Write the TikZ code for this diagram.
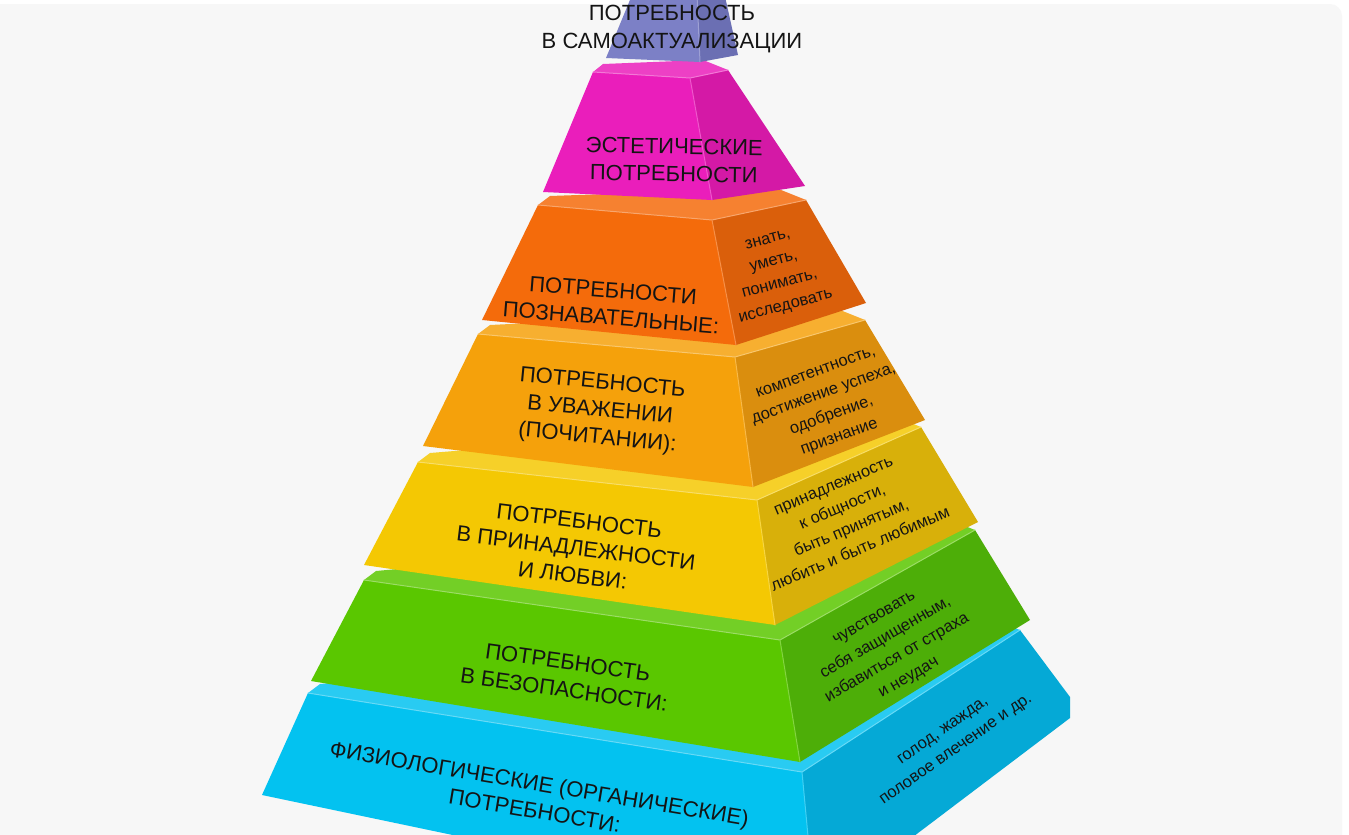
\documentclass[tikz,border=0pt]{standalone}
\usepackage{fontspec}
\setmainfont{Liberation Sans}
\definecolor{bgpanel}{HTML}{F7F7F7}
\definecolor{txt}{HTML}{141414}
% purple
\definecolor{pF}{HTML}{7C80C6}\definecolor{pR}{HTML}{6B6FB3}
% magenta
\definecolor{mF}{HTML}{EA1EBB}\definecolor{mR}{HTML}{D419A6}
% orange
\definecolor{oF}{HTML}{F46B0B}\definecolor{oR}{HTML}{DA5F0B}
% light orange
\definecolor{lF}{HTML}{F5A10B}\definecolor{lR}{HTML}{DA8E0E}
% yellow
\definecolor{yF}{HTML}{F4C803}\definecolor{yR}{HTML}{D8B00A}
% green
\definecolor{gF}{HTML}{5AC700}\definecolor{gR}{HTML}{4DAE08}
% blue
\definecolor{bF}{HTML}{03C2F0}\definecolor{bR}{HTML}{05A9D6}
\colorlet{pT}{pF!82!white}\colorlet{mT}{mF!85!white}\colorlet{oT}{oF!85!white}
\colorlet{lT}{lF!85!white}\colorlet{yT}{yF!85!white}\colorlet{gT}{gF!85!white}
\colorlet{bT}{bF!85!white}
\begin{document}
\begin{tikzpicture}[x=1pt,y=-1pt,
  bigtxt/.style={font=\fontsize{22}{27.5}\selectfont, align=center, text=txt, inner sep=0pt},
  smalltxt/.style={font=\fontsize{16.5}{23}\selectfont, align=center, text=txt, inner sep=0pt},
  hl/.style={line width=1pt, line join=round, line cap=round}]
\useasboundingbox (0,0) rectangle (1349,835);
\fill[white] (0,0) rectangle (1349,835);
\fill[bgpanel, rounded corners=12pt] (-30,4) rectangle (1342,870);
\begin{scope}
\clip (0,0) rectangle (1349,835);
% ---------------- blue tier
\coordinate (bA) at (308,693); \coordinate (bB) at (802,772); \coordinate (bC) at (1020,630);
\coordinate (bD) at (262,795); \coordinate (bE) at (815,911);
\fill[bT] (bA) -- (bB) -- (bC) -- ++(-30,-12) -- (320,684) -- cycle;
\fill[bF] (bA) -- (bB) -- (bE) -- (bD) -- cycle;
\fill[bR] (bB) -- (bC) -- (1070,697) -- (1070,718) -- (bE) -- cycle;
\draw[hl,bF!60!white] (bA) -- (bB) -- (bC); \draw[hl,bF!75!white] (bB) -- (bE);
% ---------------- green tier
\coordinate (gA) at (364,580); \coordinate (gB) at (780,640); \coordinate (gC) at (975,530);
\coordinate (gD) at (311,681); \coordinate (gE) at (800,762); \coordinate (gF) at (1030,620);
\fill[gT] (gA) -- (gB) -- (gC) -- ++(-30,-12) -- (376,571) -- cycle;
\fill[gF] (gA) -- (gB) -- (gE) -- (gD) -- cycle;
\fill[gR] (gB) -- (gC) -- (gF) -- (gE) -- cycle;
\draw[hl,gF!60!white] (gA) -- (gB) -- (gC); \draw[hl,gF!75!white] (gB) -- (gE);
% ---------------- yellow tier
\coordinate (yA) at (418,462); \coordinate (yB) at (757,500); \coordinate (yC) at (921,427);
\coordinate (yD) at (364,565); \coordinate (yE) at (775,625); \coordinate (yF) at (978,522);
\fill[yT] (yA) -- (yB) -- (yC) -- ++(-30,-12) -- (430,453) -- cycle;
\fill[yF] (yA) -- (yB) -- (yE) -- (yD) -- cycle;
\fill[yR] (yB) -- (yC) -- (yF) -- (yE) -- cycle;
\draw[hl,yF!60!white] (yA) -- (yB) -- (yC); \draw[hl,yF!75!white] (yB) -- (yE);
% ---------------- light orange tier
\coordinate (lA) at (478,334); \coordinate (lB) at (735,357); \coordinate (lC) at (865,320);
\coordinate (lD) at (423,446); \coordinate (lE) at (753,487); \coordinate (lF) at (925,420);
\fill[lT] (lA) -- (lB) -- (lC) -- ++(-30,-12) -- (490,325) -- cycle;
\fill[lF] (lA) -- (lB) -- (lE) -- (lD) -- cycle;
\fill[lR] (lB) -- (lC) -- (lF) -- (lE) -- cycle;
\draw[hl,lF!60!white] (lA) -- (lB) -- (lC); \draw[hl,lF!75!white] (lB) -- (lE);
% ---------------- orange tier
\coordinate (oA) at (538,205); \coordinate (oB) at (712,220); \coordinate (oC) at (806,200);
\coordinate (oD) at (482,320); \coordinate (oE) at (736,345); \coordinate (oF) at (866,303);
\fill[oT] (oA) -- (oB) -- (oC) -- ++(-30,-12) -- (550,196) -- cycle;
\fill[oF] (oA) -- (oB) -- (oE) -- (oD) -- cycle;
\fill[oR] (oB) -- (oC) -- (oF) -- (oE) -- cycle;
\draw[hl,oF!60!white] (oA) -- (oB) -- (oC); \draw[hl,oF!75!white] (oB) -- (oE);
% ---------------- magenta tier
\coordinate (mA) at (593,72); \coordinate (mB) at (690,78); \coordinate (mC) at (728,70);
\coordinate (mD) at (543,192); \coordinate (mE) at (712,200); \coordinate (mF) at (805,186);
\fill[mT] (mA) -- (mB) -- (mC) -- ++(-25,-10) -- (603,64) -- cycle;
\fill[mF] (mA) -- (mB) -- (mE) -- (mD) -- cycle;
\fill[mR] (mB) -- (mC) -- (mF) -- (mE) -- cycle;
\draw[hl,mF!60!white] (mA) -- (mB) -- (mC); \draw[hl,mF!75!white] (mB) -- (mE);
% ---------------- purple tier
\coordinate (pA) at (632,-5); \coordinate (pB) at (697,-5); \coordinate (pC) at (724,-8);
\coordinate (pD) at (606,58); \coordinate (pE) at (700,62); \coordinate (pF) at (738,55);
\fill[pF] (pA) -- (pB) -- (pE) -- (pD) -- cycle;
\fill[pR] (pB) -- (pC) -- (pF) -- (pE) -- cycle;
\draw[hl,pF!75!white] (pB) -- (pE);
\end{scope}
% ---------------- texts
\node[bigtxt] (t7) at (672,29) {ПОТРЕБНОСТЬ\\В САМОАКТУАЛИЗАЦИИ};
\node[bigtxt, rotate=-1] (t6) at (674,160) {ЭСТЕТИЧЕСКИЕ\\ПОТРЕБНОСТИ};
\node[bigtxt, rotate=-4.5] (t5) at (612,304) {ПОТРЕБНОСТИ\\ПОЗНАВАТЕЛЬНЫЕ:};
\node[bigtxt, rotate=-5.5] (t4) at (600,411) {ПОТРЕБНОСТЬ\\В УВАЖЕНИИ\\(ПОЧИТАНИИ):};
\node[bigtxt, rotate=-7] (t3) at (576,548) {ПОТРЕБНОСТЬ\\В ПРИНАДЛЕЖНОСТИ\\И ЛЮБВИ:};
\node[bigtxt, rotate=-8] (t2) at (566,676) {ПОТРЕБНОСТЬ\\В БЕЗОПАСНОСТИ:};
\node[bigtxt, rotate=-9.5] (t1) at (537,797) {ФИЗИОЛОГИЧЕСКИЕ (ОРГАНИЧЕСКИЕ)\\ПОТРЕБНОСТИ:};
\node[smalltxt, rotate=15] (r5) at (777,274) {знать,\\уметь,\\понимать,\\исследовать};
\node[smalltxt, rotate=20] (r4) at (828,406) {компетентность,\\достижение успеха,\\одобрение,\\признание};
\node[smalltxt, rotate=23] (r3) at (847,518) {принадлежность\\к общности,\\быть принятым,\\любить и быть любимым};
\node[smalltxt, rotate=30] (r2) at (892,649) {чувствовать\\себя защищенным,\\избавиться от страха\\и неудач};
\node[smalltxt, rotate=35] (r1) at (950,741) {голод, жажда,\\половое влечение и др.};
\end{tikzpicture}
\end{document}
